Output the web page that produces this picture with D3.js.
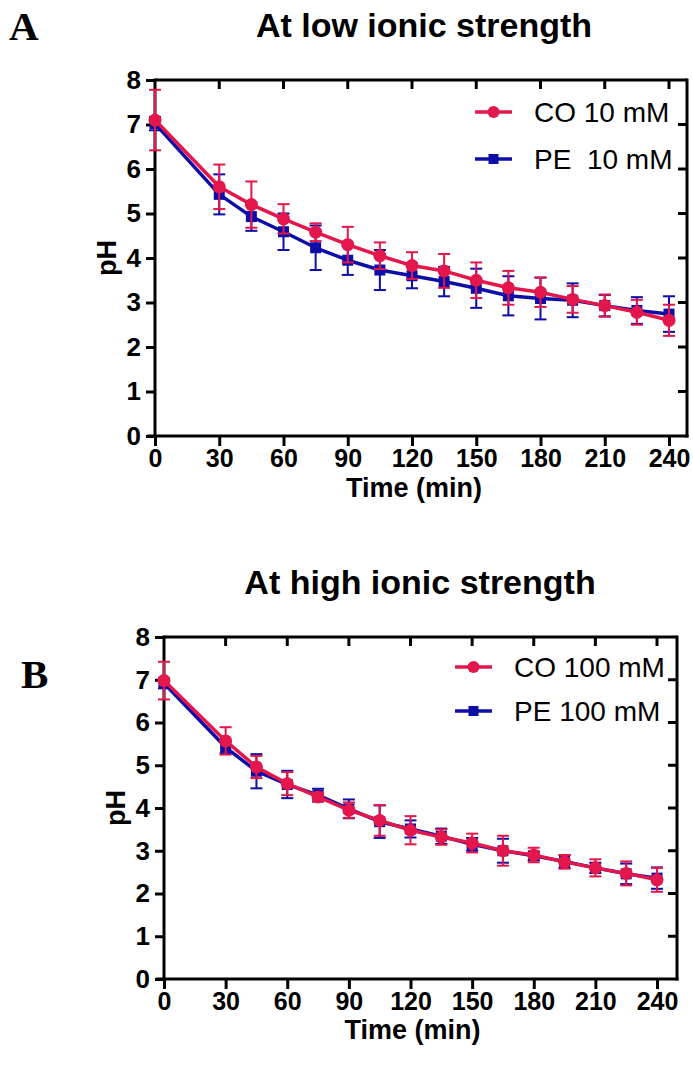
<!DOCTYPE html>
<html>
<head>
<meta charset="utf-8">
<script src="https://cdn.jsdelivr.net/npm/d3@7"></script>
<style>
  html, body { margin: 0; padding: 0; background: #fff; }
  svg { display: block; }
</style>
</head>
<body>
<svg id="chart" width="693" height="1068"></svg>
<script>
// ---------- data ----------
const times = [0, 30, 45, 60, 75, 90, 105, 120, 135, 150, 165, 180, 195, 210, 225, 240];
const xTicks = [0, 30, 60, 90, 120, 150, 180, 210, 240];
const yTicks = [0, 1, 2, 3, 4, 5, 6, 7, 8];

// Panel A (low ionic strength)
const coLow    = [7.10, 5.60, 5.20, 4.88, 4.58, 4.30, 4.05, 3.83, 3.71, 3.50, 3.33, 3.23, 3.07, 2.93, 2.78, 2.60];
const coLowErr = [0.68, 0.50, 0.52, 0.33, 0.20, 0.40, 0.30, 0.30, 0.38, 0.40, 0.38, 0.33, 0.30, 0.25, 0.28, 0.35];
const peLow    = [7.02, 5.43, 4.93, 4.59, 4.23, 3.95, 3.73, 3.60, 3.47, 3.32, 3.15, 3.09, 3.05, 2.93, 2.82, 2.74];
const peLowErr = [0.15, 0.45, 0.32, 0.41, 0.50, 0.33, 0.45, 0.28, 0.33, 0.44, 0.44, 0.47, 0.38, 0.24, 0.30, 0.40];

// Panel B (high ionic strength)
const coHigh    = [6.98, 5.57, 4.96, 4.57, 4.26, 3.95, 3.71, 3.48, 3.32, 3.18, 3.00, 2.90, 2.74, 2.60, 2.47, 2.32];
const coHighErr = [0.44, 0.32, 0.26, 0.27, 0.10, 0.18, 0.36, 0.33, 0.18, 0.22, 0.35, 0.17, 0.16, 0.20, 0.28, 0.28];
const peHigh    = [6.92, 5.42, 4.86, 4.55, 4.30, 3.98, 3.68, 3.51, 3.34, 3.15, 3.00, 2.88, 2.75, 2.60, 2.46, 2.36];
const peHighErr = [0.12, 0.14, 0.40, 0.32, 0.15, 0.22, 0.38, 0.20, 0.18, 0.15, 0.28, 0.10, 0.15, 0.12, 0.24, 0.25];

const titles = ["At low ionic strength", "At high ionic strength"];
const panelLetters = ["A", "B"];
const legendLow  = ["CO 10 mM", "PE  10 mM"];
const legendHigh = ["CO 100 mM", "PE 100 mM"];
const xLabel = "Time (min)";
const yLabel = "pH";

// ---------- styles ----------
const RED = "#e3174b";
const BLUE = "#0d0da8";
const SANS = "'Liberation Sans', Arial, Helvetica, sans-serif";
const SERIF = "'Liberation Serif', 'Times New Roman', serif";

const svg = d3.select("#chart");

function drawPanel(cfg) {
  const g = svg.append("g");
  const x = d3.scaleLinear().domain([0, 240]).range([cfg.x0, cfg.x1]);
  const y = d3.scaleLinear().domain([0, 8]).range([cfg.y0, cfg.y1]);
  const right = cfg.frameRight;

  // frame: top and right lines with inward ticks
  g.append("line").attr("x1", x(0)).attr("x2", right).attr("y1", y(8)).attr("y2", y(8))
    .attr("stroke", "#000").attr("stroke-width", 3);
  g.append("line").attr("x1", right).attr("x2", right).attr("y1", y(8) - 1.5).attr("y2", y(0) + 1.5)
    .attr("stroke", "#000").attr("stroke-width", 3);
  g.selectAll(".tt").data(xTicks.filter(d => d > 0)).join("line")
    .attr("x1", d => x(d)).attr("x2", d => x(d)).attr("y1", y(8)).attr("y2", y(8) + 9)
    .attr("stroke", "#000").attr("stroke-width", 3);
  g.selectAll(".rt").data(yTicks.filter(d => d > 0 && d < 8)).join("line")
    .attr("x1", right).attr("x2", right - 9).attr("y1", d => y(d)).attr("y2", d => y(d))
    .attr("stroke", "#000").attr("stroke-width", 3);

  // axes
  const xAxis = d3.axisBottom(x).tickValues(xTicks).tickSize(10).tickPadding(3).tickSizeOuter(0);
  const gx = g.append("g").attr("transform", `translate(0,${cfg.y0})`).call(xAxis);
  gx.select(".domain").attr("d", `M${x(0) - 8},0H${right + 1.5}`).attr("stroke-width", 3);
  gx.selectAll(".tick line").attr("stroke-width", 3);
  gx.selectAll(".tick text").attr("font-family", SANS).attr("font-weight", "bold")
    .attr("font-size", 25).attr("fill", "#000");

  const yAxis = d3.axisLeft(y).tickValues(yTicks).tickSize(9).tickPadding(5).tickSizeOuter(0);
  const gy = g.append("g").attr("transform", `translate(${cfg.x0},0)`).call(yAxis);
  gy.select(".domain").attr("d", `M0,${y(8) - 1.5}V${y(0) + 1.5}`).attr("stroke-width", 3);
  gy.selectAll(".tick line").attr("stroke-width", 3);
  gy.selectAll(".tick text").attr("font-family", SANS).attr("font-weight", "bold")
    .attr("font-size", 26).attr("fill", "#000");

  // axis titles
  g.append("text").attr("x", (x(0) + x(240)) / 2 + 2).attr("y", cfg.xLabelY)
    .attr("text-anchor", "middle").attr("font-family", SANS).attr("font-weight", "bold")
    .attr("font-size", 27).text(xLabel);
  g.append("text").attr("transform", `translate(${cfg.yLabelX},${y(4)}) rotate(-90)`)
    .attr("text-anchor", "middle").attr("font-family", SANS).attr("font-weight", "bold")
    .attr("font-size", 27).text(yLabel);

  // title & letter
  g.append("text").attr("x", cfg.titleX).attr("y", cfg.titleY).attr("text-anchor", "middle")
    .attr("font-family", SANS).attr("font-weight", "bold").attr("font-size", 34).text(cfg.title);
  g.append("text").attr("x", cfg.letterX).attr("y", cfg.letterY)
    .attr("font-family", SERIF).attr("font-weight", "bold").attr("font-size", 41).text(cfg.letter);

  // series
  const series = [
    { vals: cfg.pe, err: cfg.peErr, color: BLUE, shape: "square" },
    { vals: cfg.co, err: cfg.coErr, color: RED, shape: "circle" }
  ];
  const line = d3.line().x((d, i) => x(times[i])).y(d => y(d));
  series.forEach(s => {
    const sg = g.append("g");
    const pts = s.vals.map((v, i) => ({ t: times[i], v, e: s.err[i] }));
    // error bars
    sg.selectAll(".eb").data(pts).join("line")
      .attr("x1", d => x(d.t)).attr("x2", d => x(d.t))
      .attr("y1", d => y(d.v - d.e)).attr("y2", d => y(d.v + d.e))
      .attr("stroke", s.color).attr("stroke-width", 2);
    ["hi", "lo"].forEach(k => {
      sg.selectAll(".cap" + k).data(pts).join("line")
        .attr("x1", d => x(d.t) - 6).attr("x2", d => x(d.t) + 6)
        .attr("y1", d => y(k === "hi" ? d.v + d.e : d.v - d.e))
        .attr("y2", d => y(k === "hi" ? d.v + d.e : d.v - d.e))
        .attr("stroke", s.color).attr("stroke-width", 2);
    });
    sg.append("path").datum(s.vals).attr("d", line).attr("fill", "none")
      .attr("stroke", s.color).attr("stroke-width", 3.5).attr("stroke-linejoin", "round");
    if (s.shape === "circle") {
      sg.selectAll(".m").data(pts).join("circle")
        .attr("cx", d => x(d.t)).attr("cy", d => y(d.v)).attr("r", 6.5).attr("fill", s.color);
    } else {
      sg.selectAll(".m").data(pts).join("rect")
        .attr("x", d => x(d.t) - 5.5).attr("y", d => y(d.v) - 5.5)
        .attr("width", 11).attr("height", 11).attr("fill", s.color);
    }
  });

  // legend
  const leg = [
    { label: cfg.legend[0], color: RED, shape: "circle", y: cfg.legY[0] },
    { label: cfg.legend[1], color: BLUE, shape: "square", y: cfg.legY[1] }
  ];
  leg.forEach(l => {
    g.append("line").attr("x1", cfg.legX).attr("x2", cfg.legX + 37).attr("y1", l.y).attr("y2", l.y)
      .attr("stroke", l.color).attr("stroke-width", 3.5);
    if (l.shape === "circle") {
      g.append("circle").attr("cx", cfg.legX + 18.5).attr("cy", l.y).attr("r", 6).attr("fill", l.color);
    } else {
      g.append("rect").attr("x", cfg.legX + 13.5).attr("y", l.y - 5).attr("width", 10).attr("height", 10).attr("fill", l.color);
    }
    g.append("text").attr("x", cfg.legX + 59).attr("y", l.y + 10)
      .attr("font-family", SANS).attr("font-size", 28).attr("fill", "#000")
      .attr("xml:space", "preserve").style("white-space", "pre").text(l.label);
  });
}

drawPanel({
  x0: 155, x1: 669, frameRight: 687, y0: 436, y1: 80,
  co: coLow, coErr: coLowErr, pe: peLow, peErr: peLowErr,
  title: titles[0], titleX: 424, titleY: 37, letter: panelLetters[0], letterX: 9, letterY: 40,
  xLabelY: 497, yLabelX: 116,
  legend: legendLow, legX: 475, legY: [112, 159]
});

drawPanel({
  x0: 164, x1: 657, frameRight: 677, y0: 979, y1: 637,
  co: coHigh, coErr: coHighErr, pe: peHigh, peErr: peHighErr,
  title: titles[1], titleX: 420, titleY: 594, letter: panelLetters[1], letterX: 21, letterY: 688,
  xLabelY: 1039, yLabelX: 125,
  legend: legendHigh, legX: 455, legY: [667, 711]
});
</script>
</body>
</html>
